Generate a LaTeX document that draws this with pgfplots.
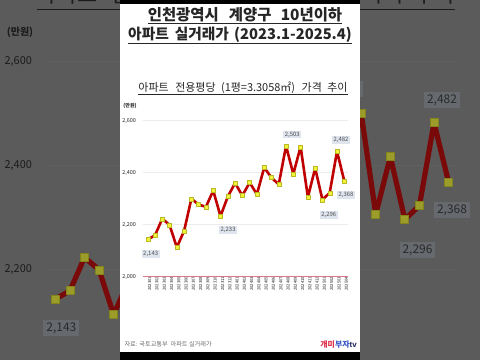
\documentclass[border=0pt]{standalone}
\usepackage{fontspec}
\setmainfont{Noto Sans CJK KR}
\newfontfamily\lat{Liberation Sans}
\usepackage{pgfplots}
\usepackage{pgfplotstable}
\pgfplotsset{compat=1.18}

\pgfplotstableread{
x y
1 2143
2 2159
3 2223
4 2199
5 2113
6 2176
7 2300
8 2277
9 2269
10 2331
11 2233
12 2308
13 2360
14 2312
15 2362
16 2317
17 2420
18 2381
19 2355
20 2503
21 2395
22 2500
23 2306
24 2417
25 2296
26 2323
27 2482
28 2368
}\pricedata

\newcommand\setfg{%
\definecolor{cPanel}{HTML}{FFFFFF}\definecolor{cBand}{HTML}{000000}%
\definecolor{cText}{HTML}{262626}\definecolor{cGrid}{HTML}{ECECEC}%
\definecolor{cBase}{HTML}{D9788A}\definecolor{cLine}{HTML}{C00000}%
\definecolor{cMarkFill}{HTML}{F2F23C}\definecolor{cMarkDraw}{HTML}{B8B820}%
\definecolor{cBox}{HTML}{DFE5EE}\definecolor{cBoxText}{HTML}{505050}%
\definecolor{cFoot}{HTML}{707070}\definecolor{cRed}{HTML}{E0304A}%
\definecolor{cBlue}{HTML}{3A5BC8}\definecolor{cNavy}{HTML}{1C2456}}
\newcommand\setbg{%
\definecolor{cPanel}{HTML}{5B5B5B}\definecolor{cBand}{HTML}{000000}%
\definecolor{cText}{HTML}{1C1C1C}\definecolor{cGrid}{HTML}{606060}%
\definecolor{cBase}{HTML}{5A4448}\definecolor{cLine}{HTML}{7A0A0A}%
\definecolor{cMarkFill}{HTML}{9C9C2A}\definecolor{cMarkDraw}{HTML}{84841C}%
\definecolor{cBox}{HTML}{66696E}\definecolor{cBoxText}{HTML}{2A2A2A}%
\definecolor{cFoot}{HTML}{3A3A3A}\definecolor{cRed}{HTML}{6A2028}%
\definecolor{cBlue}{HTML}{2A3560}\definecolor{cNavy}{HTML}{111111}}

\tikzset{lbl/.style={scale=\S, fill=cBox, text=cBoxText, inner xsep=1.5pt, inner ysep=1.2pt, font=\fontsize{6}{7}\selectfont}}
\newcommand\wsp[1]{\hspace{#1em}}

\newcommand\chart[1]{%
\def\S{#1}%
\pgfmathsetlengthmacro\W{205bp*\S}%
\pgfmathsetlengthmacro\H{156bp*\S}%
\pgfmathsetlengthmacro\AX{(240+\S*(143-240))*1bp}%
\pgfmathsetlengthmacro\AY{(180-\S*(276.7-180))*1bp}%
\begin{scope}[shift={({240*(1-\S)*1bp},{180*(1+\S)*1bp})}, x=\S bp, y=-\S bp]
 \fill[cPanel] (120,4) rectangle (360,352);
 \fill[cBand] (120,-2) rectangle (360,4);
 \fill[cBand] (120,352) rectangle (360,362);
 \node[scale=\S, text=cText, inner xsep=0pt, inner ysep=1.2pt, font={\fontsize{15.5}{17}\selectfont\bfseries}] (t1) at (245,14.5) {인천광역시\wsp{0.65}계양구\wsp{0.6}10년이하};
 \draw[cText, line width=\S*0.9bp] (t1.south west) -- (t1.south east);
 \node[scale=\S, text=cText, inner xsep=0pt, inner ysep=1.2pt, font={\fontsize{14.8}{17}\selectfont\bfseries}] (t2) at (240,34.5) {아파트\wsp{0.4}실거래가\wsp{0.35}(2023.1-2025.4)};
 \draw[cText, line width=\S*0.9bp] (t2.south west) -- (t2.south east);
 \node[scale=\S, text=cText, inner xsep=0pt, inner ysep=1.2pt, font={\fontsize{11}{12}\selectfont}] (t3) at (243,87.5) {아파트\wsp{0.6}전용평당\wsp{0.5}(1평=3.3058㎡)\wsp{0.6}가격\wsp{0.5}추이};
 \draw[cText, line width=\S*0.7bp] (t3.south west) -- (t3.south east);
 \node[scale=\S, text=cText, font={\fontsize{5}{6}\selectfont\bfseries}] at (130,106) {(만원)};
 \node[scale=\S, text=cFoot, anchor=west, font={\fontsize{6.2}{7}\selectfont}] at (121,344.5) {자료: 국토교통부 \ 아파트 실거래가};
 \node[scale=\S, anchor=east, inner sep=0pt, font={\fontsize{8}{9}\selectfont\bfseries}] at (357,345) {\textcolor{cRed}{개미}\textcolor{cBlue}{부자}\textcolor{cNavy}{\lat\bfseries tv}};
\end{scope}
 \begin{axis}[at={(\AX,\AY)}, anchor=south west, scale only axis,
   width=\W, height=\H,
   xmin=0.354, xmax=28.51, ymin=2000, ymax=2600,
   axis line style={draw=none}, major tick length=0pt,
   ytick={2200,2400,2600}, extra y ticks={2000},
   ymajorgrids, grid style={cGrid, line width=\S*0.5bp},
   extra y tick style={grid style={cBase, line width=\S*0.8bp}},
   yticklabel style={scale=\S, text=cText, font=\fontsize{5.5}{6}\selectfont, xshift=-3.5bp},
   xtick={1,...,28},
   xticklabels={202301,202302,202303,202304,202305,202306,202307,202308,202309,202310,202311,202312,202401,202402,202403,202404,202405,202406,202407,202408,202409,202410,202411,202412,202501,202502,202503,202504},
   xticklabel style={rotate=90, anchor=east, scale=\S, text=cText, font=\fontsize{4.2}{5}\selectfont, yshift=-2bp, inner sep=0pt},
   clip=false,
   /pgf/number format/.cd, 1000 sep={,}, assume math mode=true,
 ]
 \addplot[cLine, line width=\S*2.6bp, line join=round, mark=square*, mark size=\S*2bp,
   mark options={fill=cMarkFill, draw=cMarkDraw, line width=\S*0.4bp}] table[x=x,y=y] {\pricedata};
 \node[lbl, xshift=3bp, yshift=-14.4bp] at (axis cs:1,2143) {2,143};
 \node[lbl, xshift=7.6bp, yshift=-13.7bp] at (axis cs:11,2233) {2,233};
 \node[lbl, xshift=6.3bp, yshift=11.4bp] at (axis cs:20,2503) {2,503};
 \node[lbl, xshift=4bp, yshift=11.4bp] at (axis cs:27,2482) {2,482};
 \node[lbl, xshift=6.3bp, yshift=-15.4bp] at (axis cs:25,2296) {2,296};
 \node[lbl, xshift=1.7bp, yshift=-14bp] at (axis cs:28,2368) {2,368};
 \end{axis}
}

\begin{document}
\begin{tikzpicture}
\path[use as bounding box] (0,0) rectangle (480bp,360bp);
\fill[fill={rgb,255:red,91;green,91;blue,91}] (0,0) rectangle (480bp,360bp);
\begin{scope}
\clip (0,0) rectangle (480bp,360bp);
\setbg
\chart{2}
\end{scope}
\setfg
\chart{1}
\end{tikzpicture}
\end{document}
